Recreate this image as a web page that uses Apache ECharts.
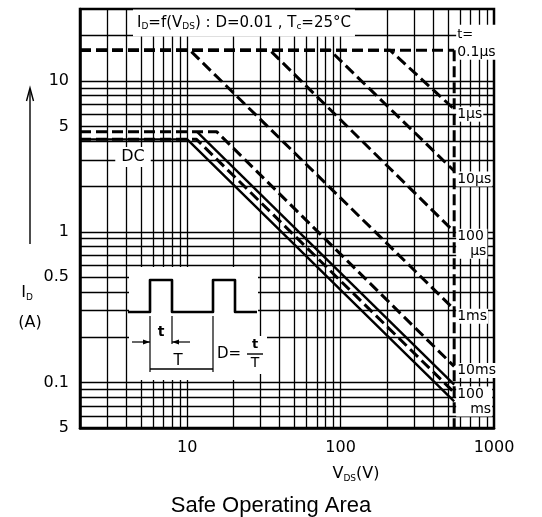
<!DOCTYPE html>
<html>
<head>
<meta charset="utf-8">
<title>Safe Operating Area</title>
<script src="https://cdn.jsdelivr.net/npm/echarts@6/dist/echarts.min.js"></script>
<style>
  html, body { margin: 0; padding: 0; background: #fff; }
  .chart { width: 542px; height: 517px; }
</style>
</head>
<body>
<div class="soa"><div class="chart"></div></div>
<script>
// 坐标范围
var xRange = [2, 1000];
var yRange = [0.05, 30];
// 网格线
var xGrid = [3, 4, 5, 6, 7, 8, 9, 10, 20, 30, 40, 50, 60, 70, 80, 90, 100, 200, 300, 400, 500, 600, 700, 800, 900];
var yGrid = [0.06, 0.07, 0.08, 0.09, 0.1, 0.2, 0.3, 0.4, 0.5, 0.6, 0.7, 0.8, 0.9, 1, 2, 3, 4, 5, 6, 7, 8, 9, 10, 20];
// 刻度标签
var xTickValues = [10, 100, 1000];
var xTickLabels = ['10', '100', '1000'];
var yTickValues = [0.05, 0.1, 0.5, 1, 5, 10];
var yTickLabels = ['5', '0.1', '0.5', '1', '5', '10'];

// 各条安全工作区边界 [VDS(V), ID(A)]
var line01us  = [[2, 16], [550, 16]];
var line1us   = [[2, 16], [210, 16], [550, 6.5]];
var line10us  = [[2, 16], [85, 16], [550, 2.53]];
var line100us = [[2, 16], [34.6, 16], [550, 1.0]];
var line1ms   = [[2, 16], [10.4, 16], [550, 0.306]];
var line10ms  = [[2, 4.6], [15.6, 4.6], [550, 0.128]];
var line100ms = [[2, 4.1], [11.5, 4.1], [550, 0.086]];
var lineDC    = [[2, 4.1], [10, 4.1], [550, 0.075]];
var lineEdge  = [[11.6, 4.6], [550, 0.097]];
var lineVmax  = [[550, 16], [550, 0.05]];

(function() {
  var myChart = echarts.init(document.querySelector('.soa .chart'));
  var font = 'DejaVu Sans';

  function pickLabel(v, vals, texts) {
    for (var i = 0; i < vals.length; i++) {
      if (Math.abs(Math.log(v) - Math.log(vals[i])) < 1e-6) return texts[i];
    }
    return '';
  }

  // 一条边界线
  function curve(name, data, dashed, label, dy) {
    var s = {
      name: name,
      type: 'line',
      data: data,
      symbol: 'none',
      silent: true,
      z: 3,
      lineStyle: {
        color: '#000',
        width: dashed ? 3 : 2.4,
        type: dashed ? [11, 5] : 'solid'
      }
    };
    if (label) {
      s.endLabel = {
        show: true,
        formatter: label,
        distance: 2,
        offset: [0, dy || 0],
        color: '#000',
        fontFamily: font,
        fontSize: 14,
        lineHeight: 15,
        backgroundColor: '#fff',
        padding: [0, 1],
        valueAnimation: false,
        rich: {
          t: { fontFamily: font, fontSize: 13, lineHeight: 20, color: '#000' },
          u: { fontFamily: font, fontSize: 14, lineHeight: 15, color: '#000', padding: [0, 0, 0, 13] }
        }
      };
    }
    return s;
  }

  // 下标文字
  function subRich(size, subSize) {
    return {
      m: { fontFamily: font, fontSize: size, lineHeight: size + 2, fill: '#000', verticalAlign: 'middle' },
      s: { fontFamily: font, fontSize: subSize, lineHeight: size + 2, fill: '#000', verticalAlign: 'bottom' }
    };
  }

  function txt(x, y, text, size, extra) {
    var st = {
      text: text,
      fontFamily: font,
      fontSize: size,
      fill: '#000',
      align: 'center',
      verticalAlign: 'middle',
      textAlign: 'center',
      textVerticalAlign: 'middle'
    };
    for (var k in extra) st[k] = extra[k];
    return { type: 'text', x: x, y: y, z: 20, style: st };
  }

  function seg(x1, y1, x2, y2, w) {
    return { type: 'line', z: 20, shape: { x1: x1, y1: y1, x2: x2, y2: y2 }, style: { stroke: '#000', lineWidth: w || 1.2 } };
  }

  var option = {
    animation: false,
    backgroundColor: '#fff',
    grid: {
      left: 80,
      right: 48,
      top: 9,
      bottom: 89,
      show: true,
      borderColor: '#000',
      borderWidth: 2.5,
      outerBoundsMode: 'none'
    },
    xAxis: {
      type: 'log',
      logBase: 10,
      min: xRange[0],
      max: xRange[1],
      axisLine: { show: true, lineStyle: { color: '#000', width: 2.5 } },
      axisTick: { show: false, customValues: xGrid },
      axisLabel: {
        customValues: xTickValues,
        margin: 12,
        color: '#000',
        fontFamily: font,
        fontSize: 16,
        formatter: function(v) { return pickLabel(v, xTickValues, xTickLabels); }
      },
      splitLine: { show: true, lineStyle: { color: '#000', width: 1.3 } }
    },
    yAxis: {
      type: 'log',
      logBase: 10,
      min: yRange[0],
      max: yRange[1],
      axisLine: { show: true, lineStyle: { color: '#000', width: 2.5 } },
      axisTick: { show: false, customValues: yGrid },
      axisLabel: {
        customValues: yTickValues,
        margin: 11,
        color: '#000',
        fontFamily: font,
        fontSize: 16,
        formatter: function(v) { return pickLabel(v, yTickValues, yTickLabels); }
      },
      splitLine: { show: true, lineStyle: { color: '#000', width: 1.3 } }
    },
    title: {
      text: 'Safe Operating Area',
      left: 'center',
      top: 490,
      textStyle: { color: '#000', fontFamily: 'Liberation Sans', fontSize: 22, fontWeight: 'normal' }
    },
    graphic: [
      // 纵轴箭头和名称
      seg(30, 244, 30, 89, 1.4),
      { type: 'polyline', z: 20, shape: { points: [[26.5, 101], [30, 88], [33.5, 101]] }, style: { stroke: '#000', fill: null, lineWidth: 1.4 } },
      txt(27, 293, '{m|I}{s|D}', 16, { rich: subRich(16, 9) }),
      txt(30, 323, '(A)', 16),
      // 横轴名称
      txt(356, 474, '{m|V}{s|DS}{m|(V)}', 16, { rich: subRich(16, 9) }),
      // 图内标题
      txt(133, 23, '{m|I}{s|D}{m|=f(V}{s|DS}{m|) : D=0.01 , T}{s|c}{m|=25°C}', 15, {
        rich: subRich(15, 9), align: 'left', textAlign: 'left', backgroundColor: '#fff', padding: [5, 4]
      }),
      // DC
      txt(133, 157, 'DC', 16, { backgroundColor: '#fff', padding: [2, 6] }),
      // 脉冲示意图
      {
        type: 'group',
        x: 128,
        y: 266,
        children: [
          { type: 'rect', z: 19, shape: { x: 1, y: 1, width: 129, height: 113 }, style: { fill: '#fff' } },
          { type: 'rect', z: 19, shape: { x: 115, y: 70, width: 24, height: 38 }, style: { fill: '#fff' } },
          {
            type: 'polyline', z: 20,
            shape: { points: [[0, 46], [22, 46], [22, 14], [44, 14], [44, 46], [85, 46], [85, 14], [107, 14], [107, 46], [129, 46]] },
            style: { stroke: '#000', fill: null, lineWidth: 2.6, lineJoin: 'round' }
          },
          seg(22, 50, 22, 106),
          seg(44, 50, 44, 78),
          seg(85, 50, 85, 106),
          seg(4, 76, 22, 76),
          { type: 'polygon', z: 20, shape: { points: [[22, 76], [15, 73.5], [15, 78.5]] }, style: { fill: '#000' } },
          seg(44, 76, 62, 76),
          { type: 'polygon', z: 20, shape: { points: [[44, 76], [51, 73.5], [51, 78.5]] }, style: { fill: '#000' } },
          txt(33, 66, 't', 14, { fontWeight: 'bold' }),
          seg(22, 103, 85, 103, 1.6),
          txt(50, 95, 'T', 15),
          txt(101, 88, 'D=', 15),
          txt(127, 79, 't', 13, { fontWeight: 'bold' }),
          seg(119, 88, 135, 88, 1.4),
          txt(127, 97, 'T', 14)
        ]
      }
    ],
    series: [
      curve('0.1µs', line01us, true, '{t|t=}\n0.1µs', -8),
      curve('1µs', line1us, true, '1µs', 5),
      curve('10µs', line10us, true, '10µs', 8),
      curve('100µs', line100us, true, '100\n{u|µs}', 12),
      curve('1ms', line1ms, true, '1ms', 7),
      curve('10ms', line10ms, true, '10ms', 4),
      curve('100ms', line100ms, true, '100\n{u|ms}', 9),
      curve('DC', lineDC, false),
      curve('edge', lineEdge, false),
      curve('Vmax', lineVmax, true)
    ]
  };

  myChart.setOption(option);
  window.addEventListener('resize', function() {
    myChart.resize();
  });
})();
</script>
</body>
</html>
